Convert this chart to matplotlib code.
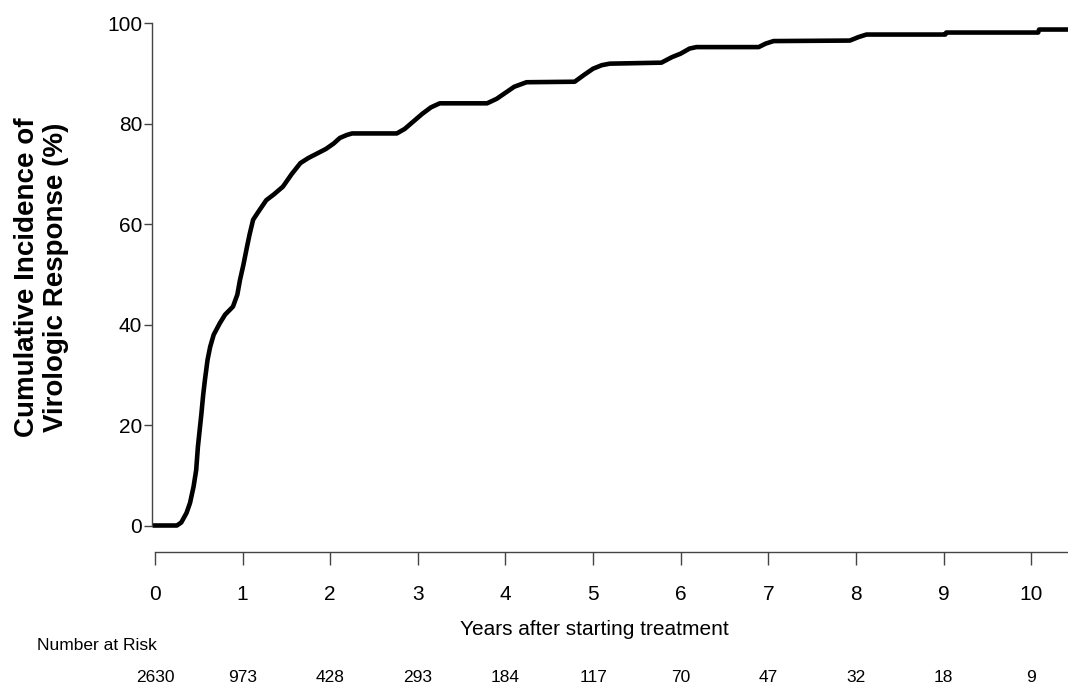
import matplotlib
matplotlib.use('Agg')
import matplotlib.pyplot as plt
import matplotlib.transforms as mtransforms

plt.rcParams['font.family'] = ['Liberation Sans', 'DejaVu Sans']

# cumulative incidence curve (years, percent)
years = [0, 0.25, 0.30, 0.36, 0.40, 0.44, 0.47, 0.49, 0.51, 0.53, 0.55, 0.57,
	0.60, 0.63, 0.67, 0.74, 0.80, 0.89, 0.94, 0.97, 1.01, 1.05, 1.08, 1.12,
	1.18, 1.27, 1.36, 1.46, 1.56, 1.66, 1.75, 1.85, 1.95, 2.04, 2.11, 2.19,
	2.25, 2.76, 2.85, 2.95, 3.05, 3.15, 3.25, 3.79, 3.90, 4.00, 4.10, 4.24,
	4.79, 4.90, 5.00, 5.10, 5.19, 5.78, 5.90, 6.00, 6.10, 6.18, 6.89, 6.97,
	7.06, 7.93, 8.03, 8.12, 9.02, 9.03, 10.08, 10.09, 10.42]
incidence = [0, 0, 0.6, 2.5, 4.5, 7.7, 11, 15.7, 19, 22.3, 26, 29,
	33, 35.6, 38, 40.3, 42, 43.6, 46, 48.9, 52, 55.5, 58, 60.9,
	62.5, 64.8, 66, 67.5, 70, 72.2, 73.2, 74.1, 75, 76.1, 77.2, 77.8,
	78.1, 78.1, 79.0, 80.5, 82.0, 83.3, 84.1, 84.1, 85.0, 86.2, 87.4, 88.3,
	88.4, 89.8, 91.0, 91.7, 92.0, 92.2, 93.3, 94.0, 95.0, 95.3, 95.3, 96.0,
	96.5, 96.6, 97.3, 97.8, 97.8, 98.2, 98.2, 98.8, 98.8]

risk_years = [0, 1, 2, 3, 4, 5, 6, 7, 8, 9, 10]
at_risk = [2630, 973, 428, 293, 184, 117, 70, 47, 32, 18, 9]

W, H = 1068, 687
fig = plt.figure(figsize=(W / 100, H / 100), dpi=100)
ax = fig.add_axes([152 / W, 161.5 / H, 916 / W, 502 / H])

ax.plot(years, incidence, color='black', lw=3.3, clip_on=False,
	solid_joinstyle='round')

ax.set_xlim(-0.034, 10.42)
ax.set_ylim(0, 100)

axis_col = '#444444'
for s in ['top', 'right']:
	ax.spines[s].set_visible(False)
ax.spines['left'].set_bounds(0, 100)
ax.spines['bottom'].set_bounds(0, 10.42)
ax.spines['bottom'].set_position(('outward', 19))
for s in ['left', 'bottom']:
	ax.spines[s].set_color(axis_col)
	ax.spines[s].set_linewidth(1.0)

ax.set_yticks([0, 20, 40, 60, 80, 100])
ax.set_xticks(risk_years)
ax.tick_params(axis='y', length=6, width=1.0, color=axis_col, pad=1, labelsize=15)
ax.tick_params(axis='x', length=9.5, width=1.0, color=axis_col, pad=14, labelsize=15)

fig.text(594 / W, (H - 635) / H, 'Years after starting treatment', ha='center',
	va='baseline', fontsize=15)
fig.text(42 / W, 1 - 277 / H, 'Cumulative Incidence of\nVirologic Response (%)',
	rotation=90, ha='center', va='center', multialignment='center',
	fontsize=20, fontweight='bold', linespacing=1.15)

# number at risk table under the axis
fig.text(37 / W, (H - 650) / H, 'Number at Risk', ha='left', va='baseline',
	fontsize=12.5)
trans = mtransforms.blended_transform_factory(ax.transData, fig.transFigure)
for x, n in zip(risk_years, at_risk):
	ax.text(x, (H - 681.5) / H, str(n), transform=trans, ha='center',
		va='baseline', fontsize=12.5)

fig.savefig('out.png', dpi=100)
